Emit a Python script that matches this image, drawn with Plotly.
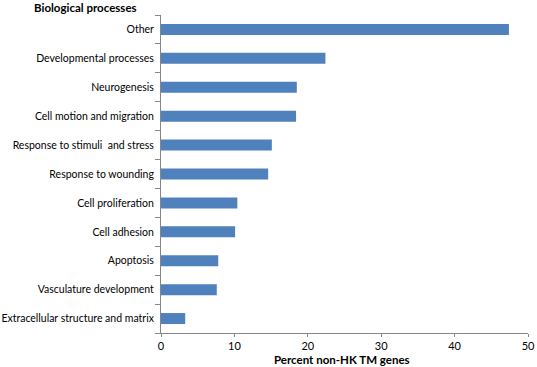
import plotly.graph_objects as go

categories = ["Other", "Developmental processes", "Neurogenesis", "Cell motion and migration",
              "Response to stimuli  and stress", "Response to wounding", "Cell proliferation",
              "Cell adhesion", "Apoptosis", "Vasculature development",
              "Extracellular structure and matrix"]
values = [47.4, 22.4, 18.5, 18.4, 15.1, 14.6, 10.4, 10.1, 7.8, 7.6, 3.3]
x_ticks = [0, 10, 20, 30, 40, 50]

fig = go.Figure(go.Bar(
    y=categories, x=values, orientation="h",
    marker=dict(color="#4F81BD", line=dict(width=0)),
    width=0.38,
))

font = "Lato, Open Sans, Liberation Sans, sans-serif"
L, R, T, B = 161, 9, 15, 34
PW, PH = 537 - L - R, 367 - T - B
fig.update_layout(
    width=537, height=367,
    margin=dict(l=L, r=R, t=T, b=B, autoexpand=False),
    paper_bgcolor="white", plot_bgcolor="white",
    showlegend=False,
    font=dict(family=font, size=10.5, color="#000000"),
)
fig.add_annotation(text="<b>Biological processes</b>", xref="paper", yref="paper",
                   x=-(L - 32) / PW, y=1 + 7 / PH, xanchor="left", yanchor="middle",
                   showarrow=False, font=dict(size=11.5, family=font, color="#000"))
fig.add_annotation(text="<b>Percent non-HK TM genes</b>", xref="paper", yref="paper",
                   x=(342 - L) / PW, y=-(359 - (T + PH)) / PH, xanchor="center", yanchor="middle",
                   showarrow=False, font=dict(size=11.5, family=font, color="#000"))

fig.update_xaxes(
    range=[0, 50], tickvals=x_ticks, ticktext=[str(v) for v in x_ticks],
    showgrid=False, zeroline=False, showline=True, linecolor="#868686", linewidth=1,
    ticks="outside", ticklen=3, tickcolor="#868686", automargin=False,
    tickfont=dict(size=11, family=font),
)
fig.update_yaxes(
    categoryorder="array", categoryarray=categories[::-1],
    showgrid=False, zeroline=False, showline=True, linecolor="#868686", linewidth=1,
    ticks="outside", ticklen=5, tickcolor="#868686", tickson="boundaries",
    tickfont=dict(size=10.5, family=font), automargin=False, ticklabelstandoff=4,
    range=[-0.5, len(categories) - 0.5],
)

fig.write_html("out.html", config={"displayModeBar": False},
               post_script="document.body.style.margin='0';document.body.style.overflow='hidden';")
